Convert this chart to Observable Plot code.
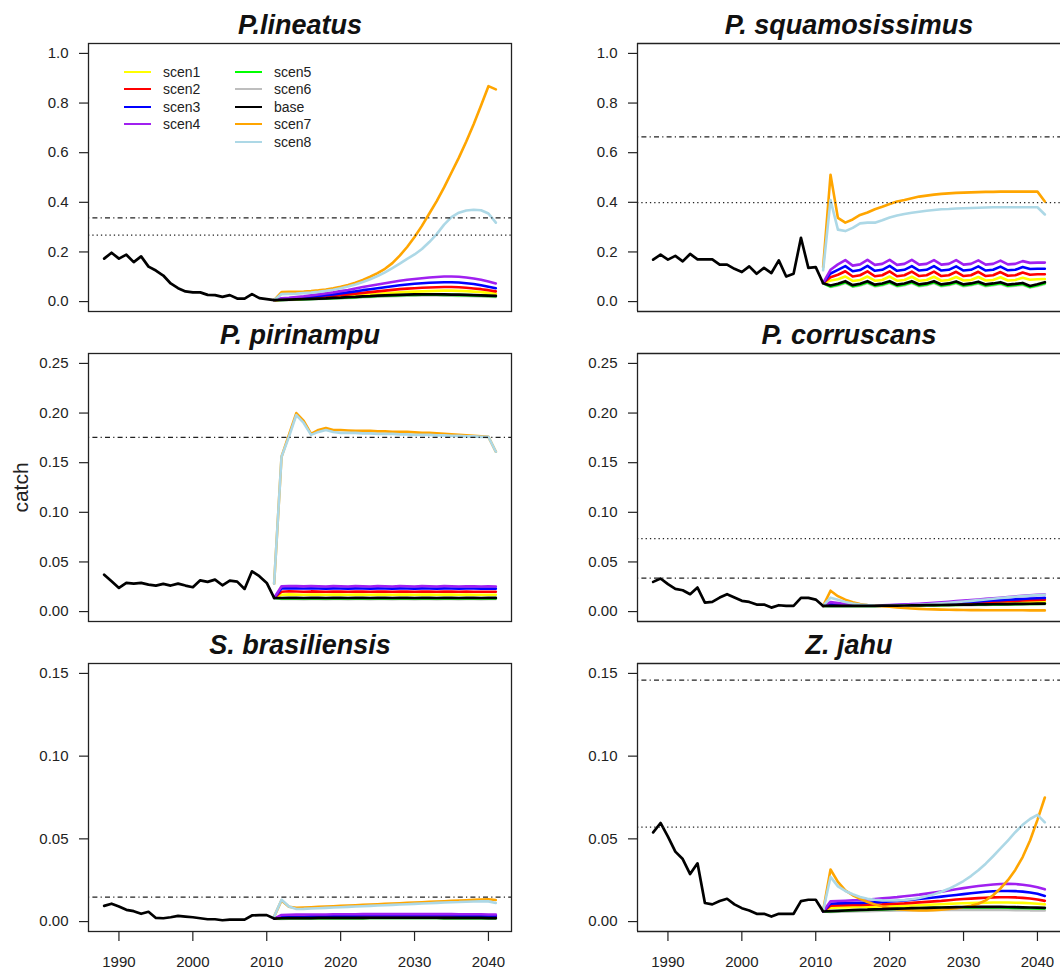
<!DOCTYPE html>
<html>
<head>
<meta charset="utf-8">
<script src="https://cdn.jsdelivr.net/npm/d3@7"></script>
<script src="https://cdn.jsdelivr.net/npm/@observablehq/plot@0.6"></script>
<style>
html, body { margin: 0; padding: 0; background: #fff; overflow: hidden; }
#fig { position: relative; width: 1062px; height: 970px; overflow: hidden; font-family: "Liberation Sans", Arial, sans-serif; color: #222; }
.panel { position: absolute; }
.leg { position: absolute; display: flex; align-items: center; font-size: 14px; color: #222; white-space: nowrap; }
.leg .sw { display: inline-block; width: 27px; height: 2px; margin-right: 12px; }
</style>
</head>
<body>
<div id="fig"></div>
<script>
// ---------------- data ----------------
const titles = ["P.lineatus", "P. squamosissimus", "P. pirinampu", "P. corruscans", "S. brasiliensis", "Z. jahu"];
const histStart = 1988;   // first year of the historical (base) series
const scenStart = 2011;   // first year of the projections
const xLimits = [1988, 2041];
const xTicks = [1990, 2000, 2010, 2020, 2030, 2040];
const yLimits = [[0, 1], [0, 1], [0, 0.25], [0, 0.25], [0, 0.15], [0, 0.15]];
const yTicksTop = [0, 0.2, 0.4, 0.6, 0.8, 1.0];
const yTicksMid = [0, 0.05, 0.10, 0.15, 0.20, 0.25];
const yTicksBot = [0, 0.05, 0.10, 0.15];
const refDotDash = [0.337, 0.664, 0.1755, 0.0337, 0.0148, 0.1459];
const refDotted = [0.268, 0.399, null, 0.0735, null, 0.0571];
const seriesNames = ["scen1", "scen2", "scen3", "scen4", "scen5", "scen6", "base", "scen7", "scen8"];
const seriesColors = ["#FFFF00", "#FF0000", "#0000FF", "#A020F0", "#00FF00", "#BEBEBE", "#000000", "#FFA500", "#ADD8E6"];

const lineatus = {
  hist:  [0.173,0.197,0.173,0.189,0.159,0.182,0.141,0.125,0.105,0.073,0.054,0.041,0.037,0.037,0.027,0.026,0.019,0.026,0.012,0.012,0.030,0.014,0.010,0.006],
  scen1: [0.006,0.008,0.009,0.010,0.012,0.013,0.015,0.017,0.019,0.021,0.023,0.025,0.027,0.029,0.031,0.033,0.035,0.037,0.039,0.040,0.041,0.042,0.043,0.044,0.044,0.043,0.042,0.040,0.038,0.035,0.032],
  scen2: [0.006,0.009,0.011,0.012,0.014,0.016,0.018,0.020,0.023,0.026,0.029,0.032,0.035,0.038,0.041,0.044,0.047,0.050,0.052,0.054,0.056,0.057,0.058,0.059,0.059,0.058,0.056,0.053,0.050,0.046,0.041],
  scen3: [0.006,0.011,0.013,0.015,0.017,0.020,0.023,0.026,0.029,0.033,0.037,0.041,0.046,0.050,0.054,0.058,0.062,0.066,0.069,0.072,0.074,0.076,0.077,0.078,0.078,0.077,0.074,0.071,0.066,0.060,0.054],
  scen4: [0.006,0.013,0.015,0.018,0.021,0.025,0.029,0.033,0.037,0.042,0.047,0.053,0.059,0.064,0.069,0.074,0.079,0.084,0.088,0.091,0.094,0.097,0.099,0.101,0.101,0.100,0.097,0.093,0.088,0.081,0.073],
  scen5: [0.006,0.007,0.008,0.009,0.010,0.011,0.012,0.013,0.014,0.015,0.017,0.018,0.020,0.021,0.023,0.024,0.025,0.026,0.027,0.027,0.028,0.028,0.028,0.027,0.027,0.026,0.026,0.025,0.024,0.023,0.022],
  scen6: [0.006,0.006,0.007,0.008,0.009,0.010,0.011,0.012,0.013,0.014,0.015,0.016,0.018,0.019,0.020,0.021,0.022,0.023,0.024,0.024,0.025,0.025,0.025,0.024,0.024,0.023,0.023,0.022,0.021,0.020,0.019],
  base:  [0.006,0.007,0.008,0.009,0.010,0.011,0.012,0.013,0.015,0.016,0.018,0.019,0.021,0.022,0.024,0.025,0.026,0.027,0.028,0.029,0.029,0.029,0.029,0.029,0.028,0.028,0.027,0.026,0.025,0.024,0.023],
  scen7: [0.006,0.038,0.039,0.039,0.040,0.042,0.045,0.049,0.054,0.060,0.067,0.076,0.087,0.100,0.115,0.132,0.155,0.185,0.220,0.260,0.305,0.355,0.405,0.460,0.520,0.580,0.645,0.715,0.790,0.868,0.855],
  scen8: [0.006,0.030,0.031,0.032,0.034,0.036,0.039,0.043,0.048,0.054,0.061,0.069,0.079,0.090,0.103,0.118,0.135,0.153,0.172,0.190,0.212,0.240,0.272,0.310,0.340,0.358,0.367,0.370,0.368,0.355,0.318]
};

const squamosissimus = {
  hist:  [0.169,0.189,0.169,0.184,0.162,0.192,0.170,0.170,0.170,0.149,0.149,0.132,0.119,0.142,0.112,0.136,0.115,0.166,0.101,0.112,0.257,0.136,0.139,0.074],
  scen1: [0.075,0.085,0.090,0.101,0.083,0.087,0.101,0.084,0.087,0.101,0.084,0.087,0.100,0.084,0.087,0.100,0.084,0.087,0.099,0.085,0.087,0.099,0.085,0.087,0.098,0.085,0.087,0.096,0.088,0.090,0.091],
  scen2: [0.075,0.098,0.108,0.122,0.101,0.106,0.122,0.102,0.106,0.122,0.102,0.106,0.121,0.103,0.106,0.121,0.103,0.106,0.120,0.103,0.106,0.120,0.103,0.106,0.119,0.104,0.106,0.117,0.108,0.110,0.110],
  scen3: [0.075,0.113,0.128,0.143,0.122,0.127,0.144,0.124,0.128,0.144,0.124,0.128,0.143,0.125,0.128,0.143,0.125,0.128,0.142,0.125,0.128,0.142,0.125,0.128,0.141,0.126,0.128,0.139,0.131,0.132,0.132],
  scen4: [0.075,0.128,0.150,0.167,0.145,0.150,0.168,0.148,0.152,0.168,0.148,0.152,0.168,0.149,0.152,0.167,0.149,0.152,0.167,0.149,0.152,0.166,0.149,0.152,0.165,0.150,0.152,0.163,0.156,0.157,0.157],
  scen5: [0.074,0.061,0.068,0.078,0.062,0.068,0.078,0.064,0.069,0.078,0.064,0.069,0.078,0.065,0.069,0.078,0.065,0.069,0.077,0.065,0.069,0.076,0.065,0.069,0.074,0.064,0.067,0.071,0.059,0.066,0.074],
  scen6: [0.074,0.059,0.065,0.075,0.060,0.065,0.075,0.061,0.066,0.075,0.061,0.066,0.075,0.062,0.066,0.075,0.062,0.066,0.074,0.062,0.066,0.073,0.062,0.066,0.071,0.061,0.064,0.068,0.057,0.063,0.071],
  base:  [0.074,0.065,0.072,0.082,0.066,0.072,0.082,0.068,0.073,0.082,0.068,0.073,0.082,0.069,0.073,0.082,0.069,0.073,0.081,0.069,0.073,0.080,0.069,0.073,0.078,0.068,0.071,0.075,0.063,0.070,0.078],
  scen7: [0.139,0.511,0.337,0.318,0.331,0.349,0.359,0.372,0.382,0.393,0.403,0.409,0.416,0.423,0.427,0.431,0.434,0.436,0.438,0.439,0.440,0.441,0.442,0.442,0.443,0.443,0.443,0.443,0.443,0.443,0.403],
  scen8: [0.126,0.409,0.290,0.284,0.297,0.315,0.318,0.318,0.328,0.339,0.347,0.353,0.358,0.362,0.366,0.369,0.372,0.373,0.375,0.376,0.377,0.378,0.379,0.380,0.380,0.380,0.380,0.380,0.380,0.380,0.351]
};

const pirinampu = {
  hist:  [0.0372,0.0305,0.0238,0.0289,0.0282,0.0289,0.0272,0.0262,0.0279,0.0262,0.0282,0.0262,0.0245,0.0315,0.0299,0.0322,0.0265,0.0312,0.0302,0.0228,0.0406,0.0356,0.0289,0.0138],
  scen1: [0.0138,0.0170,0.0173,0.0171,0.0170,0.0172,0.0171,0.0169,0.0172,0.0171,0.0169,0.0172,0.0171,0.0169,0.0172,0.0171,0.0169,0.0172,0.0171,0.0169,0.0172,0.0171,0.0169,0.0172,0.0171,0.0169,0.0171,0.0170,0.0169,0.0170,0.0169],
  scen2: [0.0138,0.0200,0.0204,0.0202,0.0200,0.0203,0.0201,0.0199,0.0202,0.0201,0.0199,0.0202,0.0201,0.0199,0.0202,0.0201,0.0199,0.0202,0.0201,0.0199,0.0202,0.0201,0.0199,0.0202,0.0201,0.0199,0.0201,0.0200,0.0199,0.0200,0.0199],
  scen3: [0.0138,0.0232,0.0236,0.0234,0.0232,0.0235,0.0233,0.0231,0.0234,0.0233,0.0231,0.0234,0.0233,0.0231,0.0234,0.0233,0.0231,0.0234,0.0233,0.0231,0.0234,0.0233,0.0231,0.0234,0.0233,0.0231,0.0233,0.0232,0.0231,0.0232,0.0231],
  scen4: [0.0138,0.0255,0.0258,0.0256,0.0254,0.0257,0.0255,0.0253,0.0256,0.0255,0.0253,0.0256,0.0255,0.0253,0.0256,0.0255,0.0253,0.0256,0.0255,0.0253,0.0256,0.0255,0.0253,0.0256,0.0255,0.0253,0.0255,0.0254,0.0253,0.0254,0.0253],
  scen5: [0.0138,0.0133,0.0134,0.0133,0.0132,0.0134,0.0133,0.0132,0.0134,0.0133,0.0132,0.0134,0.0133,0.0132,0.0134,0.0133,0.0132,0.0134,0.0133,0.0132,0.0134,0.0133,0.0132,0.0134,0.0133,0.0132,0.0133,0.0133,0.0132,0.0133,0.0133],
  scen6: [0.0138,0.0126,0.0127,0.0126,0.0125,0.0127,0.0126,0.0125,0.0127,0.0126,0.0125,0.0127,0.0126,0.0125,0.0127,0.0126,0.0125,0.0127,0.0126,0.0125,0.0127,0.0126,0.0125,0.0127,0.0126,0.0125,0.0126,0.0126,0.0125,0.0126,0.0126],
  base:  [0.0138,0.0137,0.0139,0.0138,0.0137,0.0139,0.0138,0.0137,0.0139,0.0138,0.0137,0.0139,0.0138,0.0137,0.0139,0.0138,0.0137,0.0139,0.0138,0.0137,0.0139,0.0138,0.0137,0.0139,0.0138,0.0137,0.0138,0.0138,0.0137,0.0138,0.0138],
  scen7: [0.028,0.156,0.178,0.200,0.192,0.179,0.183,0.185,0.183,0.183,0.1825,0.182,0.182,0.182,0.1815,0.1815,0.181,0.181,0.181,0.1805,0.180,0.180,0.1795,0.179,0.1785,0.178,0.1775,0.177,0.1765,0.176,0.161],
  scen8: [0.028,0.156,0.176,0.198,0.190,0.178,0.181,0.183,0.181,0.180,0.180,0.180,0.1795,0.1795,0.179,0.179,0.179,0.1785,0.1785,0.178,0.178,0.178,0.1775,0.1775,0.177,0.177,0.1765,0.1765,0.176,0.176,0.161]
};

const corruscans = {
  hist:  [0.0299,0.0333,0.0276,0.0228,0.0215,0.0175,0.0242,0.0091,0.0097,0.0141,0.0175,0.0141,0.0108,0.0097,0.0071,0.0071,0.0040,0.0064,0.0057,0.0057,0.0138,0.0138,0.0121,0.0057],
  scen1: [0.0057,0.0066,0.0064,0.0062,0.0060,0.0060,0.0060,0.0060,0.0060,0.0061,0.0062,0.0064,0.0065,0.0067,0.0069,0.0071,0.0073,0.0075,0.0077,0.0079,0.0081,0.0083,0.0085,0.0088,0.0090,0.0092,0.0094,0.0096,0.0098,0.0100,0.0102],
  scen2: [0.0057,0.0072,0.0068,0.0064,0.0062,0.0061,0.0060,0.0060,0.0061,0.0062,0.0064,0.0066,0.0068,0.0070,0.0073,0.0075,0.0078,0.0081,0.0084,0.0087,0.0090,0.0093,0.0096,0.0099,0.0102,0.0105,0.0108,0.0111,0.0114,0.0117,0.0120],
  scen3: [0.0057,0.0080,0.0074,0.0068,0.0064,0.0062,0.0061,0.0061,0.0062,0.0064,0.0066,0.0068,0.0071,0.0074,0.0077,0.0080,0.0084,0.0087,0.0091,0.0095,0.0099,0.0103,0.0107,0.0111,0.0115,0.0119,0.0123,0.0127,0.0131,0.0135,0.0138],
  scen4: [0.0057,0.0095,0.0085,0.0075,0.0068,0.0064,0.0062,0.0062,0.0063,0.0065,0.0068,0.0071,0.0075,0.0079,0.0084,0.0089,0.0094,0.0099,0.0105,0.0110,0.0116,0.0122,0.0128,0.0134,0.0140,0.0146,0.0152,0.0158,0.0163,0.0168,0.0172],
  scen5: [0.0057,0.0056,0.0056,0.0056,0.0056,0.0056,0.0057,0.0057,0.0058,0.0058,0.0059,0.0060,0.0061,0.0062,0.0063,0.0064,0.0065,0.0066,0.0067,0.0068,0.0069,0.0070,0.0071,0.0072,0.0073,0.0074,0.0075,0.0076,0.0077,0.0078,0.0079],
  scen6: [0.0057,0.0053,0.0053,0.0053,0.0053,0.0053,0.0054,0.0054,0.0055,0.0055,0.0056,0.0056,0.0057,0.0058,0.0059,0.0060,0.0061,0.0062,0.0063,0.0064,0.0065,0.0066,0.0067,0.0068,0.0069,0.0070,0.0071,0.0072,0.0073,0.0074,0.0075],
  base:  [0.0057,0.0057,0.0057,0.0057,0.0057,0.0057,0.0058,0.0058,0.0059,0.0059,0.0060,0.0061,0.0062,0.0063,0.0064,0.0065,0.0066,0.0067,0.0069,0.0070,0.0071,0.0072,0.0073,0.0074,0.0075,0.0076,0.0077,0.0078,0.0079,0.0080,0.0081],
  scen7: [0.0057,0.0210,0.0155,0.0120,0.0094,0.0077,0.0067,0.0060,0.0054,0.0048,0.0042,0.0036,0.0031,0.0027,0.0024,0.0022,0.0020,0.0018,0.0017,0.0016,0.0015,0.0015,0.0014,0.0014,0.0013,0.0013,0.0013,0.0013,0.0012,0.0012,0.0012],
  scen8: [0.0057,0.0140,0.0120,0.0097,0.0082,0.0072,0.0065,0.0061,0.0059,0.0059,0.0060,0.0062,0.0065,0.0069,0.0073,0.0078,0.0083,0.0089,0.0095,0.0101,0.0108,0.0115,0.0122,0.0129,0.0136,0.0143,0.0150,0.0156,0.0161,0.0166,0.0168]
};

const brasiliensis = {
  hist:  [0.0095,0.0108,0.0091,0.0071,0.0063,0.0047,0.0059,0.0022,0.0020,0.0026,0.0034,0.0030,0.0026,0.0020,0.0014,0.0014,0.0008,0.0012,0.0012,0.0012,0.0037,0.0039,0.0039,0.0018],
  scen1: [0.0018,0.0025,0.0026,0.0026,0.0026,0.0026,0.0027,0.0027,0.0027,0.0027,0.0027,0.0027,0.0027,0.0028,0.0028,0.0028,0.0028,0.0028,0.0028,0.0028,0.0028,0.0028,0.0028,0.0028,0.0027,0.0027,0.0027,0.0027,0.0027,0.0027,0.0026],
  scen2: [0.0018,0.0029,0.0030,0.0030,0.0030,0.0031,0.0031,0.0031,0.0031,0.0031,0.0032,0.0032,0.0032,0.0032,0.0032,0.0032,0.0032,0.0032,0.0032,0.0032,0.0032,0.0032,0.0032,0.0032,0.0032,0.0031,0.0031,0.0031,0.0031,0.0031,0.0030],
  scen3: [0.0018,0.0033,0.0034,0.0034,0.0035,0.0035,0.0035,0.0036,0.0036,0.0036,0.0036,0.0036,0.0037,0.0037,0.0037,0.0037,0.0037,0.0037,0.0037,0.0037,0.0037,0.0037,0.0037,0.0037,0.0037,0.0036,0.0036,0.0036,0.0036,0.0035,0.0035],
  scen4: [0.0018,0.0040,0.0041,0.0042,0.0042,0.0043,0.0043,0.0043,0.0044,0.0044,0.0044,0.0044,0.0045,0.0045,0.0045,0.0045,0.0045,0.0045,0.0045,0.0045,0.0045,0.0045,0.0045,0.0045,0.0045,0.0044,0.0044,0.0044,0.0044,0.0043,0.0043],
  scen5: [0.0018,0.0019,0.0020,0.0020,0.0020,0.0020,0.0021,0.0021,0.0021,0.0021,0.0021,0.0021,0.0021,0.0022,0.0022,0.0022,0.0022,0.0022,0.0022,0.0022,0.0022,0.0022,0.0022,0.0021,0.0021,0.0021,0.0021,0.0021,0.0021,0.0020,0.0020],
  scen6: [0.0018,0.0016,0.0017,0.0017,0.0017,0.0017,0.0018,0.0018,0.0018,0.0018,0.0018,0.0018,0.0018,0.0019,0.0019,0.0019,0.0019,0.0019,0.0019,0.0019,0.0019,0.0019,0.0019,0.0018,0.0018,0.0018,0.0018,0.0018,0.0018,0.0017,0.0017],
  base:  [0.0018,0.0020,0.0021,0.0021,0.0021,0.0021,0.0022,0.0022,0.0022,0.0022,0.0022,0.0022,0.0022,0.0023,0.0023,0.0023,0.0023,0.0023,0.0023,0.0023,0.0023,0.0023,0.0023,0.0022,0.0022,0.0022,0.0022,0.0022,0.0022,0.0021,0.0021],
  scen7: [0.0030,0.0128,0.0090,0.0083,0.0085,0.0087,0.0089,0.0091,0.0093,0.0095,0.0097,0.0099,0.0101,0.0103,0.0105,0.0107,0.0109,0.0111,0.0113,0.0115,0.0117,0.0119,0.0121,0.0123,0.0125,0.0127,0.0129,0.0131,0.0133,0.0135,0.0130],
  scen8: [0.0030,0.0132,0.0091,0.0076,0.0077,0.0079,0.0081,0.0083,0.0085,0.0087,0.0089,0.0091,0.0093,0.0095,0.0097,0.0099,0.0101,0.0103,0.0105,0.0107,0.0109,0.0111,0.0113,0.0115,0.0117,0.0118,0.0120,0.0121,0.0122,0.0122,0.0112]
};

const jahu = {
  hist:  [0.0539,0.0596,0.0514,0.0423,0.0378,0.0287,0.0352,0.0112,0.0104,0.0124,0.0138,0.0104,0.0081,0.0067,0.0047,0.0047,0.0030,0.0047,0.0047,0.0047,0.0124,0.0132,0.0132,0.0061],
  scen1: [0.0061,0.0083,0.0085,0.0086,0.0087,0.0088,0.0089,0.0090,0.0091,0.0092,0.0093,0.0095,0.0097,0.0099,0.0101,0.0103,0.0105,0.0107,0.0109,0.0111,0.0112,0.0113,0.0114,0.0115,0.0115,0.0115,0.0114,0.0113,0.0111,0.0108,0.0104],
  scen2: [0.0061,0.0096,0.0098,0.0099,0.0100,0.0101,0.0102,0.0103,0.0104,0.0106,0.0108,0.0110,0.0113,0.0116,0.0119,0.0122,0.0125,0.0129,0.0133,0.0136,0.0139,0.0142,0.0144,0.0146,0.0147,0.0147,0.0146,0.0143,0.0139,0.0133,0.0125],
  scen3: [0.0061,0.0108,0.0110,0.0111,0.0112,0.0113,0.0114,0.0116,0.0118,0.0121,0.0124,0.0128,0.0132,0.0136,0.0141,0.0146,0.0151,0.0156,0.0161,0.0166,0.0171,0.0176,0.0180,0.0183,0.0185,0.0185,0.0184,0.0181,0.0176,0.0168,0.0155],
  scen4: [0.0061,0.0122,0.0124,0.0126,0.0128,0.0130,0.0133,0.0136,0.0140,0.0144,0.0148,0.0153,0.0158,0.0163,0.0169,0.0175,0.0181,0.0188,0.0195,0.0202,0.0209,0.0215,0.0220,0.0224,0.0227,0.0228,0.0227,0.0223,0.0217,0.0208,0.0195],
  scen5: [0.0061,0.0062,0.0064,0.0066,0.0068,0.0070,0.0071,0.0073,0.0074,0.0076,0.0077,0.0078,0.0080,0.0081,0.0082,0.0083,0.0084,0.0085,0.0086,0.0086,0.0086,0.0086,0.0086,0.0086,0.0085,0.0084,0.0083,0.0082,0.0081,0.0080,0.0079],
  scen6: [0.0061,0.0058,0.0059,0.0060,0.0061,0.0062,0.0063,0.0064,0.0065,0.0066,0.0067,0.0067,0.0068,0.0069,0.0069,0.0070,0.0070,0.0071,0.0071,0.0071,0.0071,0.0071,0.0071,0.0071,0.0070,0.0070,0.0069,0.0069,0.0068,0.0068,0.0067],
  base:  [0.0061,0.0063,0.0065,0.0067,0.0069,0.0071,0.0072,0.0074,0.0075,0.0077,0.0078,0.0079,0.0081,0.0082,0.0083,0.0084,0.0085,0.0086,0.0087,0.0088,0.0088,0.0089,0.0089,0.0089,0.0089,0.0088,0.0087,0.0086,0.0085,0.0084,0.0083],
  scen7: [0.0065,0.0315,0.0240,0.0189,0.0159,0.0138,0.0118,0.0104,0.0091,0.0081,0.0075,0.0071,0.0068,0.0067,0.0067,0.0069,0.0072,0.0076,0.0081,0.0088,0.0095,0.0108,0.0128,0.0159,0.0200,0.0250,0.0312,0.0390,0.0490,0.0615,0.0750],
  scen8: [0.0065,0.0270,0.0213,0.0185,0.0165,0.0148,0.0138,0.0132,0.0128,0.0127,0.0127,0.0130,0.0135,0.0143,0.0153,0.0165,0.0180,0.0198,0.0220,0.0245,0.0275,0.0310,0.0350,0.0395,0.0442,0.0490,0.0540,0.0585,0.0620,0.0645,0.0600]
};

const speciesData = [lineatus, squamosissimus, pirinampu, corruscans, brasiliensis, jahu];
const yTickSets = [yTicksTop, yTicksTop, yTicksMid, yTicksMid, yTicksBot, yTicksBot];
const yTickFormats = [".1f", ".1f", ".2f", ".2f", ".2f", ".2f"];

// ---------------- drawing ----------------
const colorOf = Object.fromEntries(seriesNames.map((n, i) => [n, seriesColors[i]]));
const drawOrder = ["scen6", "scen5", "scen1", "scen2", "scen3", "scen4", "scen7", "scen8"];
const FONT = '"Liberation Sans", Arial, Helvetica, sans-serif';
const toRows = (arr, start) => arr.map((v, i) => ({year: start + i, value: v}));
const expand = ([a, b]) => { const p = (b - a) * 0.04; return [a - p, b + p]; };

const fig = document.getElementById("fig");
const colLeft = [0, 549];
const rowTop = [0, 310, 620];
const boxStyle = {stroke: "#222", strokeWidth: 1.3};

speciesData.forEach((sp, k) => {
  const col = k % 2, row = Math.floor(k / 2);
  const bottomRow = row === 2;
  const xDom = expand(xLimits), yDom = expand(yLimits[k]);
  const marks = [];
  for (const name of drawOrder) {
    marks.push(Plot.line(toRows(sp[name], scenStart), {x: "year", y: "value", stroke: colorOf[name], strokeWidth: 2.6, strokeLinejoin: "round"}));
  }
  const baseRows = toRows(sp.hist, histStart).concat(toRows(sp.base, scenStart).slice(1));
  marks.push(Plot.line(baseRows, {x: "year", y: "value", stroke: colorOf.base, strokeWidth: 2.7, strokeLinejoin: "round"}));
  marks.push(Plot.ruleY([refDotDash[k]], {stroke: "#222", strokeWidth: 1.2, strokeDasharray: "1.2,3.2,5,3.2"}));
  if (refDotted[k] != null) marks.push(Plot.ruleY([refDotted[k]], {stroke: "#222", strokeWidth: 1.2, strokeDasharray: "1.3,3"}));
  if (col === 0) {
    marks.push(Plot.frame(boxStyle));
  } else {
    // the right-hand column is cut off by the figure's right edge: no right border visible
    marks.push(Plot.ruleY([yDom[0], yDom[1]], boxStyle));
    marks.push(Plot.ruleX([xDom[0]], boxStyle));
  }
  marks.push(Plot.axisY(yTickSets[k], {label: null, tickSize: 9, tickPadding: 11, tickFormat: d3.format(yTickFormats[k]), fontSize: 15, strokeWidth: 1.2}));
  if (bottomRow) marks.push(Plot.axisX(xTicks, {label: null, tickSize: 10, tickPadding: 15, tickFormat: d => String(d), fontSize: 15, strokeWidth: 1.2}));
  marks.push(Plot.text([titles[k]], {frameAnchor: "top", dy: -10, lineAnchor: "bottom", fontSize: 27, fontWeight: "bold", fontStyle: "italic", fill: "#111"}));
  if (k === 2) marks.push(Plot.text(["catch"], {frameAnchor: "left", dx: -61, rotate: -90, lineAnchor: "bottom", textAnchor: "middle", fontSize: 21, fill: "#222"}));

  const chart = Plot.plot({
    width: col === 0 ? 531 : 530,
    height: bottomRow ? 350 : 320,
    marginLeft: 88, marginRight: col === 0 ? 20 : 19, marginTop: 43, marginBottom: bottomRow ? 39 : 9,
    x: {domain: xDom, axis: null},
    y: {domain: yDom, axis: null},
    style: {background: "transparent", color: "#222", fontFamily: FONT, maxWidth: "none", overflow: "visible"},
    marks
  });
  const holder = document.createElement("div");
  holder.className = "panel";
  holder.style.left = colLeft[col] + "px";
  holder.style.top = rowTop[row] + "px";
  holder.appendChild(chart);
  fig.appendChild(holder);
});

// legend (inside the first panel, two columns)
const legendCols = [["scen1", "scen2", "scen3", "scen4"], ["scen5", "scen6", "base", "scen7", "scen8"]];
const legendX = [124, 235];
const legendY0 = 72, legendDY = 17.4;
legendCols.forEach((names, c) => {
  names.forEach((n, r) => {
    const item = document.createElement("div");
    item.className = "leg";
    item.style.left = legendX[c] + "px";
    item.style.top = (legendY0 + r * legendDY - 9) + "px";
    item.style.height = "18px";
    const sw = document.createElement("span");
    sw.className = "sw";
    sw.style.background = colorOf[n];
    const lab = document.createElement("span");
    lab.textContent = n;
    item.appendChild(sw);
    item.appendChild(lab);
    fig.appendChild(item);
  });
});
</script>
</body>
</html>
